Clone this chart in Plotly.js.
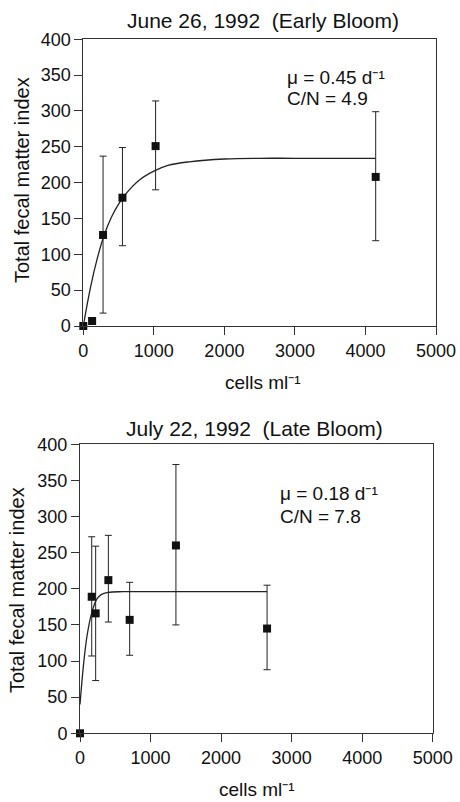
<!DOCTYPE html>
<html><head><meta charset="utf-8">
<script src="https://cdn.plot.ly/plotly-3.0.1.min.js"></script>
<style>html,body{margin:0;padding:0;background:#fff}#c{width:460px;height:802px}</style>
</head><body><div id="c"></div>
<script>
// June 26, 1992 (Early Bloom)
const earlyX = [0, 125, 280, 555, 1025, 4145];
const earlyY = [0, 7, 127, 179, 251, 208];
const earlyHi = [0, 7, 237, 249, 314, 299];
const earlyLo = [0, 7, 18, 112, 190, 119];
const earlyFitX = [0, 100, 200, 300, 400, 500, 600, 800, 1000, 1200, 1500, 2000, 2500, 3000, 4145];
const earlyFitY = [0, 53, 95, 128, 152, 170, 184, 204, 216, 224, 229, 233, 234, 234, 234];
// July 22, 1992 (Late Bloom)
const lateX = [0, 166, 222, 402, 704, 1360, 2652];
const lateY = [0, 189, 166, 212, 157, 260, 145];
const lateHi = [0, 272, 259, 274, 209, 372, 205];
const lateLo = [0, 107, 73, 154, 108, 150, 88];
const lateFitX = [0, 50, 100, 170, 240, 300, 400, 600, 1000, 2000, 2652];
const lateFitY = [40, 95, 135, 168, 186, 192, 195, 196, 196, 196, 196];

const xTicks = [0, 1000, 2000, 3000, 4000, 5000];
const yTicks = [0, 50, 100, 150, 200, 250, 300, 350, 400];

function errs(y, hi, lo) {
  return {
    type: 'data', symmetric: false,
    array: y.map((v, i) => hi[i] - v),
    arrayminus: y.map((v, i) => v - lo[i]),
    color: '#222', thickness: 1, width: 3.5, visible: true
  };
}
const mk = {symbol: 'square', size: 8, color: '#111'};
const traces = [
  {x: earlyFitX, y: earlyFitY, mode: 'lines', line: {color: '#222', width: 1.3, shape: 'spline'}, xaxis: 'x', yaxis: 'y', cliponaxis: false},
  {x: earlyX, y: earlyY, mode: 'markers', marker: mk, error_y: errs(earlyY, earlyHi, earlyLo), xaxis: 'x', yaxis: 'y', cliponaxis: false},
  {x: lateFitX, y: lateFitY, mode: 'lines', line: {color: '#222', width: 1.3, shape: 'spline'}, xaxis: 'x2', yaxis: 'y2', cliponaxis: false},
  {x: lateX, y: lateY, mode: 'markers', marker: mk, error_y: errs(lateY, lateHi, lateLo), xaxis: 'x2', yaxis: 'y2', cliponaxis: false}
];

const FAM = 'Liberation Sans, Arial, Helvetica, sans-serif';
const tf = {family: FAM, size: 18, color: '#111'};
const af = {family: FAM, size: 19, color: '#111'};
function xa(dom, anchor) {
  return {domain: dom, anchor: anchor, range: [0, 5000], tickvals: xTicks, ticktext: xTicks.map(String),
    showgrid: false, zeroline: false, showline: true, mirror: true, linecolor: '#333', linewidth: 1,
    ticks: 'outside', ticklen: 8, tickcolor: '#333', tickfont: tf};
}
function ya(dom, anchor) {
  return {domain: dom, anchor: anchor, range: [0, 400], tickvals: yTicks, ticktext: yTicks.map(String),
    showgrid: false, zeroline: false, showline: true, mirror: true, linecolor: '#333', linewidth: 1,
    ticks: 'outside', ticklen: 8, tickcolor: '#333', tickfont: tf};
}
const W = 460, H = 802;
function pa(x, y, text, font, extra) {
  return Object.assign({xref: 'paper', yref: 'paper', x: x / W, y: (H - y) / H, xanchor: 'center', yanchor: 'middle', text: text, showarrow: false, font: font}, extra || {});
}
const layout = {
  width: W, height: H, margin: {l: 0, r: 0, t: 0, b: 0},
  paper_bgcolor: '#fff', plot_bgcolor: '#fff', showlegend: false,
  font: tf,
  xaxis: xa([83.3 / W, 436 / W], 'y'),
  yaxis: ya([(H - 326) / H, (H - 39.3) / H], 'x'),
  xaxis2: xa([80 / W, 432.7 / W], 'y2'),
  yaxis2: ya([(H - 733.3) / H, (H - 444.3) / H], 'x2'),
  annotations: [
    pa(263, 21, 'June 26, 1992  (Early Bloom)', {family: FAM, size: 21, color: '#111'}),
    pa(254, 428, 'July 22, 1992  (Late Bloom)', {family: FAM, size: 21, color: '#111'}),
    pa(263, 382, 'cells ml⁻¹', af),
    pa(257, 789, 'cells ml⁻¹', af),
    pa(22, 180, 'Total fecal matter index', {family: FAM, size: 20, color: '#111'}, {textangle: -90}),
    pa(17, 590, 'Total fecal matter index', {family: FAM, size: 20, color: '#111'}, {textangle: -90}),
    {xref: 'x', yref: 'y', x: 2860, y: 347, xanchor: 'left', yanchor: 'middle', text: 'μ = 0.45 d⁻¹', showarrow: false, font: af},
    {xref: 'x', yref: 'y', x: 2860, y: 318, xanchor: 'left', yanchor: 'middle', text: 'C/N = 4.9', showarrow: false, font: af},
    {xref: 'x2', yref: 'y2', x: 2805, y: 332, xanchor: 'left', yanchor: 'middle', text: 'μ = 0.18 d⁻¹', showarrow: false, font: af},
    {xref: 'x2', yref: 'y2', x: 2805, y: 300, xanchor: 'left', yanchor: 'middle', text: 'C/N = 7.8', showarrow: false, font: af}
  ]
};
Plotly.newPlot('c', traces, layout, {staticPlot: true, displayModeBar: false});
</script></body></html>
